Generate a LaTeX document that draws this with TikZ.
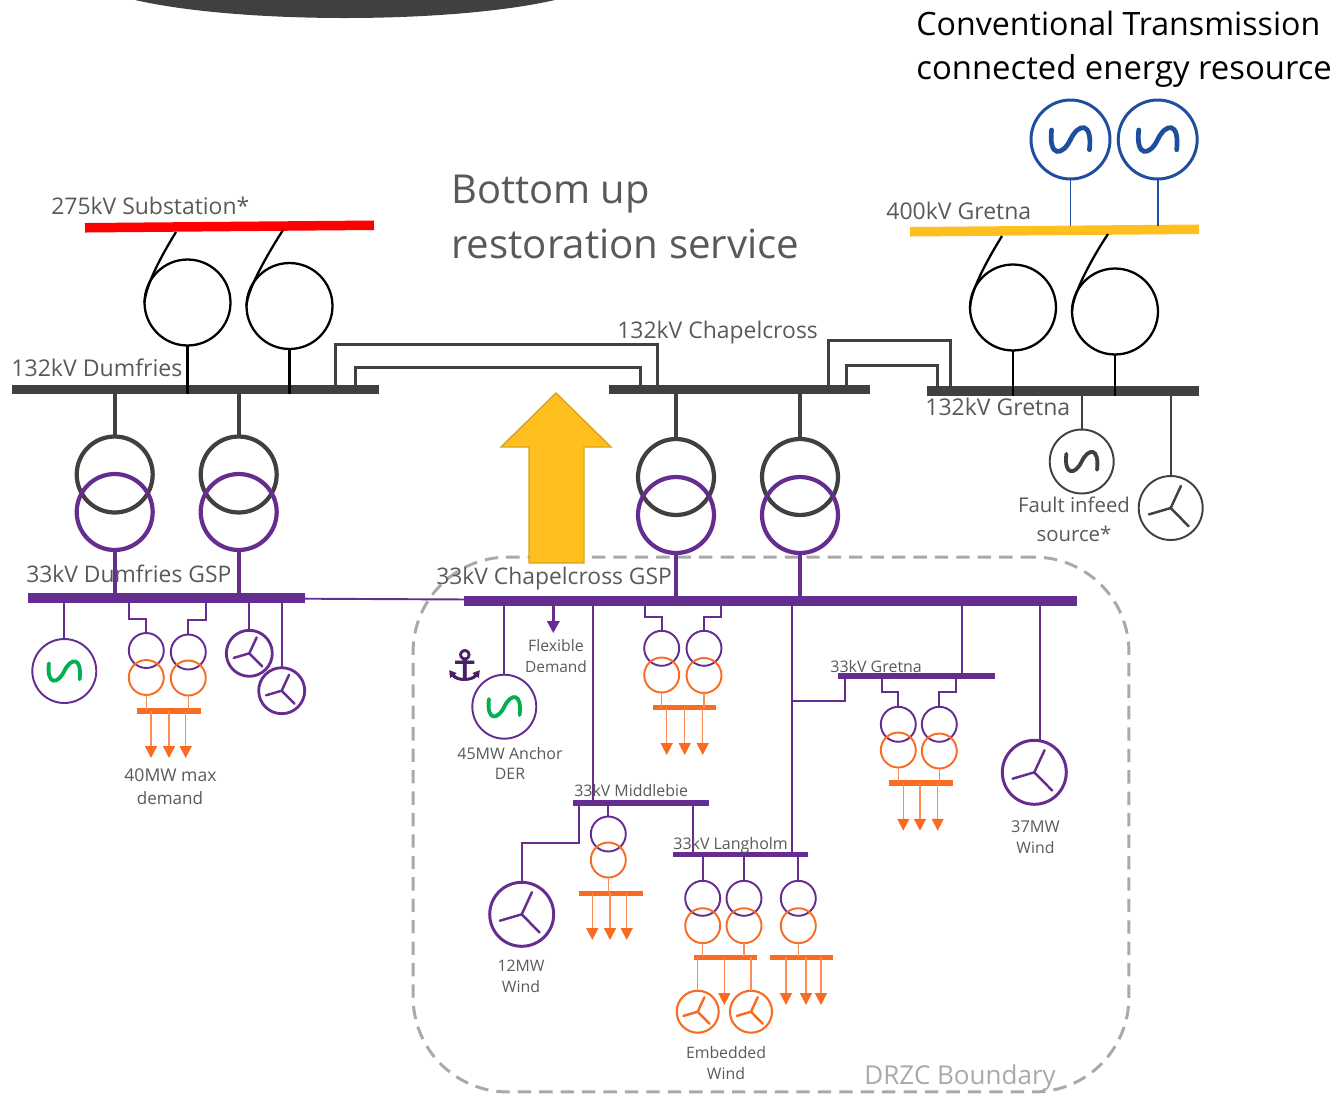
\documentclass[tikz,border=0pt]{standalone}
\usepackage{fontspec}
\setmainfont{Open Sans}
\newfontfamily\symfont[FakeBold=1.5]{DejaVu Sans}
\usetikzlibrary{arrows.meta}
\definecolor{purp}{HTML}{662D91}
\definecolor{dkgrey}{HTML}{404040}
\definecolor{txtgrey}{HTML}{595959}
\definecolor{orng}{HTML}{F96B21}
\definecolor{orngl}{HTML}{FB8C55}
\definecolor{yell}{HTML}{FFC01F}
\definecolor{blu}{HTML}{1F4E9F}
\definecolor{grn}{HTML}{00B050}
\definecolor{bndry}{HTML}{A9A9A9}
\tikzset{
    busH/.style 2 args={rectangle,fill=#1,inner sep=0,outer sep=0,minimum width=#2*0.02cm,minimum height=0.19cm},
    busL/.style 2 args={rectangle,fill=#1,inner sep=0,outer sep=0,minimum width=#2*0.02cm,minimum height=0.11cm},
    ring/.style 2 args={circle,draw=#1,inner sep=0,outer sep=0,minimum size=#2*0.04cm},
    gen/.style n args={3}{ring={#1}{#2},path picture={
        \draw[#3,line width=0.0024cm*#2,line cap=round,shift={(path picture bounding box.center)}]
            (-0.48*#2,-0.24*#2) .. controls (-0.56*#2,0.46*#2) and (-0.2*#2,0.42*#2) .. (0,0)
            .. controls (0.2*#2,-0.42*#2) and (0.56*#2,-0.46*#2) .. (0.48*#2,0.26*#2);}},
    wind/.style 2 args={ring={#1}{#2},path picture={
        \draw[#1,line width=1.4pt,line cap=round,shift={(path picture bounding box.center)}]
            (0,0) -- (0.32*#2,-0.69*#2) (0,0) -- (-0.68*#2,0.2*#2) (0,0) -- (0.56*#2,0.57*#2);}},
    lab/.style={text=txtgrey,inner sep=0,font=\fontsize{#1}{#1}\selectfont},
    lineG/.style={dkgrey,line width=1.7pt},
    lineK/.style={black,line width=1.3pt},
    lineP/.style={purp,line width=1.1pt},
    lineT/.style={purp,line width=2.4pt},
    lineO/.style={orngl,line width=0.8pt},
    load/.style={orngl,line width=0.8pt,-{Triangle[length=6.8pt,width=6.8pt,color=orng]}},
}
\begin{document}
\begin{tikzpicture}[x=0.02cm,y=-0.02cm]
        \useasboundingbox (0,0) rectangle (1332,1093);
        \fill[dkgrey] (135,0) .. controls (240,24) and (450,24) .. (555,0) -- cycle;

        % boundary
        \node [draw=bndry,line width=1.7pt,dash pattern=on 7.6pt off 4.6pt,rounded corners=1.9cm,inner sep=0,minimum width=14.32cm,minimum height=10.7cm](drzc) at (771,824.5) {};

        % big arrow
        \draw [fill=yell,draw=yell!85!black,line width=0.8pt] (556,393) -- (611,447) -- (584,447) -- (584,563) -- (529,563) -- (529,447) -- (501,447) -- cycle;

        % busbars
        \node [busH={red}{289},rotate=0.5](bus275) at (229.5,226.5) {};
        \node [busH={yell}{289},rotate=0.5](bus400) at (1054.5,230.5) {};
        \node [busH={dkgrey}{367}](busDum) at (195.5,389.5) {};
        \node [busH={dkgrey}{261}](busCha) at (739.5,389.5) {};
        \node [busH={dkgrey}{272}](busGre) at (1063,391) {};
        \node [busH={purp}{277}](busDumL) at (166.5,598) {};
        \node [busH={purp}{613}](busChaL) at (770.5,601) {};
        \node [busL={purp}{136}](busMid) at (641,803) {};
        \node [busL={purp}{135}](busLan) at (740,854.5) {};
        \node [busL={purp}{157}](busGreL) at (916,676) {};

        % grid transformers
        \begin{scope}[every node/.style={line width=1.3pt}]
            \node [ring={black}{43}](tfA) at (187.5,302.5) {};
            \node [ring={black}{43}](tfB) at (289.5,306) {};
            \node [ring={black}{43}](tfC) at (1013,307.5) {};
            \node [ring={black}{43}](tfD) at (1115,311.5) {};
        \end{scope}
        \coordinate (hookA) at (176,232);\coordinate (hookB) at (283,230);
        \coordinate (hookC) at (1002,236);\coordinate (hookD) at (1108,234);
        \draw [lineK](hookA) .. controls (160,258) and (146,285) .. (tfA.west);
        \draw [lineK](hookB) .. controls (267,255) and (247,290) .. (tfB.west);
        \draw [lineK](hookC) .. controls (986,262) and (971,290) .. (tfC.west);
        \draw [lineK](hookD) .. controls (1092,258) and (1072,295) .. (tfD.west);
        \draw [lineK](tfA) -- (tfA |- busDum.south);\draw [lineK](tfB) -- (tfB |- busDum.south);
        \draw [lineK](tfC) -- (tfC |- busGre.south);\draw [lineK](tfD) -- (tfD |- busGre.south);

        % links between 132kV bars
        \coordinate (lnkA) at (335.7,344.5);\coordinate (lnkB) at (657.3,344.5);
        \coordinate (lnkC) at (355.7,367.5);\coordinate (lnkD) at (640,367.5);
        \coordinate (lnkE) at (828,340.5);\coordinate (lnkF) at (950,340.5);
        \coordinate (lnkG) at (846,365.5);\coordinate (lnkH) at (937,365.5);
        \draw [lineG](lnkA |- busDum) -- (lnkA) -- (lnkB) -- (lnkB |- busCha);
        \draw [lineG](lnkC |- busDum) -- (lnkC) -- (lnkD) -- (lnkD |- busCha);
        \draw [lineG](lnkE |- busCha) -- (lnkE) -- (lnkF) -- (lnkF |- busGre);
        \draw [lineG](lnkG |- busCha) -- (lnkG) -- (lnkH) -- (lnkH |- busGre);

        % supergrid transformers
        \begin{scope}[every node/.style={line width=2.4pt}]
            \node [ring={dkgrey}{38}](sgA) at (114.7,474.5) {};
            \node [ring={purp}{38}](sgAp) at (114.7,512) {};
            \node [ring={dkgrey}{38}](sgB) at (238.7,474.5) {};
            \node [ring={purp}{38}](sgBp) at (238.7,512) {};
            \node [ring={dkgrey}{38}](sgC) at (676,477) {};
            \node [ring={purp}{38}](sgCp) at (676,515) {};
            \node [ring={dkgrey}{38}](sgD) at (800,477) {};
            \node [ring={purp}{38}](sgDp) at (800,515) {};
        \end{scope}
        \draw [dkgrey,line width=2.4pt](busDum -| sgA) -- (sgA);\draw [dkgrey,line width=2.4pt](busDum -| sgB) -- (sgB);
        \draw [dkgrey,line width=2.4pt](busCha -| sgC) -- (sgC);\draw [dkgrey,line width=2.4pt](busCha -| sgD) -- (sgD);
        \draw [lineT](sgAp) -- (sgAp |- busDumL);\draw [lineT](sgBp) -- (sgBp |- busDumL);
        \draw [lineT](sgCp) -- (sgCp |- busChaL);\draw [lineT](sgDp) -- (sgDp |- busChaL);

        % generators
        \node [gen={blu}{39.5}{blu},line width=1.7pt](genA) at (1070.5,139.5) {};
        \node [gen={blu}{39.5}{blu},line width=1.7pt](genB) at (1157.7,139.5) {};
        \draw [blu,line width=1.1pt](genA) -- (genA |- bus400.north);\draw [blu,line width=1.1pt](genB) -- (genB |- bus400.north);
        \node [gen={dkgrey}{32}{dkgrey},line width=1.1pt](genF) at (1081.7,461.5) {};
        \node [wind={dkgrey}{32},line width=1.1pt](windF) at (1170.7,508) {};
        \draw [dkgrey,line width=1.1pt](busGre -| genF) -- (genF);\draw [dkgrey,line width=1.1pt](busGre -| windF) -- (windF);
        \node [gen={purp}{32}{grn},line width=1.1pt](genD) at (64.3,671) {};
        \draw [lineP](busDumL -| genD) -- (genD);
        \node [gen={purp}{32}{grn},line width=1.1pt](genE) at (504.3,706.7) {};
        \draw [lineP](busChaL -| genE) -- (genE);
        \node [wind={purp}{23},line width=1.6pt](windA) at (249.3,653.3) {};
        \node [wind={purp}{23},line width=1.6pt](windB) at (281.7,690.7) {};
        \draw [lineP](busDumL -| windA) -- (windA);\draw [lineP](busDumL -| windB) -- (windB);
        \node [wind={purp}{32},line width=1.7pt](windC) at (1034.3,772.3) {};
        \coordinate (tapW) at (1040,700);
        \draw [lineP](tapW |- busChaL) -- (tapW |- windC.north);
        \node [wind={purp}{32},line width=1.7pt](windD) at (521.7,914.3) {};
        \node [wind={orng}{21},line width=1.2pt](windE) at (697.7,1011.7) {};
        \node [wind={orng}{21},line width=1.2pt](windG) at (751,1011.7) {};

        % 33kV feeders
        \draw [lineP](busDumL) -- (busChaL);
        \coordinate (tapN) at (592.7,700);
        \draw [lineP](tapN |- busChaL) -- (tapN |- busMid);
        \coordinate (tapL) at (791.7,701);\coordinate (tapR) at (962.3,640);\coordinate (tapM) at (693.3,830);\coordinate (tapK) at (845,701);\coordinate (tapJ) at (579,842.7);
        \draw [lineP](tapL |- busChaL) -- (tapL) -- (tapL |- busLan);
        \draw [lineP](tapL) -- (tapK) -- (tapK |- busGreL);
        \draw [lineP](tapR |- busChaL) -- (tapR |- busGreL);
        \draw [lineP](tapM |- busMid) -- (tapM |- busLan);
        \draw [lineP](tapJ |- busMid) -- (tapJ) -| (windD);

        % distribution transformers
        \begin{scope}[every node/.style={line width=1.1pt}]
            \node [ring={purp}{17.5}](dtA) at (146.3,650.5) {};
            \node [ring={orng}{17.5}](dtAo) at (146.3,677.5) {};
            \node [ring={purp}{17.5}](dtB) at (188.3,652) {};
            \node [ring={orng}{17.5}](dtBo) at (188.3,678) {};
            \node [ring={purp}{17.5}](dtC) at (661.7,648.3) {};
            \node [ring={orng}{17.5}](dtCo) at (661.7,675) {};
            \node [ring={purp}{17.5}](dtD) at (704,648.3) {};
            \node [ring={orng}{17.5}](dtDo) at (704,675.5) {};
            \node [ring={purp}{17.5}](dtE) at (898.3,724.3) {};
            \node [ring={orng}{17.5}](dtEo) at (898.3,750) {};
            \node [ring={purp}{17.5}](dtF) at (939.3,724.3) {};
            \node [ring={orng}{17.5}](dtFo) at (939.3,751) {};
            \node [ring={purp}{17.5}](dtG) at (608.3,834) {};
            \node [ring={orng}{17.5}](dtGo) at (608.3,860) {};
            \node [ring={purp}{17.5}](dtH) at (702.7,898.3) {};
            \node [ring={orng}{17.5}](dtHo) at (702.7,925.7) {};
            \node [ring={purp}{17.5}](dtI) at (744,898.3) {};
            \node [ring={orng}{17.5}](dtIo) at (744,925.7) {};
            \node [ring={purp}{17.5}](dtK) at (798.3,898.3) {};
            \node [ring={orng}{17.5}](dtKo) at (798.3,925.7) {};
        \end{scope}
        \coordinate (elA) at (129,619);\coordinate (elB) at (205.7,620);
        \coordinate (elC) at (645,617);\coordinate (elD) at (721,617);
        \coordinate (elE) at (881.7,692);\coordinate (elF) at (956,692);
        \draw [lineP](elA |- busDumL) -- (elA) -| (dtA);\draw [lineP](elB |- busDumL) -- (elB) -| (dtB);
        \draw [lineP](elC |- busChaL) -- (elC) -| (dtC);\draw [lineP](elD |- busChaL) -- (elD) -| (dtD);
        \draw [lineP](elE |- busGreL) -- (elE) -| (dtE);\draw [lineP](elF |- busGreL) -- (elF) -| (dtF);
        \draw [lineP](busMid -| dtG) -- (dtG);
        \draw [lineP](busLan -| dtH) -- (dtH);\draw [lineP](busLan -| dtI) -- (dtI);\draw [lineP](busLan -| dtK) -- (dtK);

        % load bars
        \node [busL={orng}{63.5}](ldA) at (169,711) {};
        \node [busL={orng}{63}](ldB) at (684.7,707.5) {};
        \node [busL={orng}{63.5}](ldC) at (921,783) {};
        \node [busL={orng}{64}](ldD) at (611.3,893.3) {};
        \node [busL={orng}{63.3}](ldE) at (725.7,957.3) {};
        \node [busL={orng}{62.7}](ldF) at (801.3,957.3) {};
        \draw [lineO](dtAo) -- (dtAo |- ldA);\draw [lineO](dtBo) -- (dtBo |- ldA);
        \draw [lineO](dtCo) -- (dtCo |- ldB);\draw [lineO](dtDo) -- (dtDo |- ldB);
        \draw [lineO](dtEo) -- (dtEo |- ldC);\draw [lineO](dtFo) -- (dtFo |- ldC);
        \draw [lineO](dtGo) -- (dtGo |- ldD);
        \draw [lineO](dtHo) -- (dtHo |- ldE);\draw [lineO](dtIo) -- (dtIo |- ldE);\draw [lineO](dtKo) -- (dtKo |- ldF);
        \draw [lineO](ldE -| windE) -- (windE);\draw [lineO](ldE -| windG) -- (windG);
        \foreach \x in {151,169,185.7} {\coordinate (tip) at (\x,758);\draw [load](tip |- ldA) -- (tip);}
        \foreach \x in {666.7,684.7,702.7} {\coordinate (tip) at (\x,755);\draw [load](tip |- ldB) -- (tip);}
        \foreach \x in {903.3,920,937.7} {\coordinate (tip) at (\x,830.7);\draw [load](tip |- ldC) -- (tip);}
        \foreach \x in {592.3,610,626.7} {\coordinate (tip) at (\x,940);\draw [load](tip |- ldD) -- (tip);}
        \foreach \x in {786,806,821} {\coordinate (tip) at (\x,1005);\draw [load](tip |- ldF) -- (tip);}
        \coordinate (tipE) at (724.3,1005);\draw [load](tipE |- ldE) -- (tipE);
        \coordinate (tipFx) at (553.3,633);
        \draw [purp,line width=1.4pt,-{Triangle[length=6.8pt,width=7pt]}](tipFx |- busChaL) -- (tipFx);

        \node [text=purp!70!black,font=\symfont\fontsize{24}{24}\selectfont,inner sep=0](anchor) at (464.5,665) {⚓};

        % labels
        \node [lab=18.3,text=black,anchor=west](lblConvA) at (916,23) {Conventional Transmission};
        \node [lab=18.7,text=black,anchor=west](lblConvB) at (916,71) {connected energy resource};
        \node [lab=22.7,anchor=west](lblBotA) at (451,194) {Bottom up};
        \node [lab=22.9,anchor=west](lblBotB) at (451,244) {restoration service};
        \node [lab=13.05,anchor=west](lbl275) at (51,206) {275kV Substation*};
        \node [lab=13.1,anchor=west](lbl400) at (886,211) {400kV Gretna};
        \node [lab=13.15,anchor=west](lblDum) at (11,368) {132kV Dumfries};
        \node [lab=13.05,anchor=west](lblCha) at (617,333) {132kV Chapelcross};
        \node [lab=13.1,anchor=west](lblGre) at (925,407) {132kV Gretna};
        \node [lab=13,anchor=west](lblDumL) at (26,574) {33kV Dumfries GSP};
        \node [lab=13,anchor=west](lblChaL) at (436,579) {33kV Chapelcross GSP};
        \node [lab=11.6](lblFaA) at (1074,505) {Fault infeed};
        \node [lab=11.6](lblFaB) at (1074,534) {source*};
        \node [lab=10](lblDemA) at (170.5,775) {40MW max};
        \node [lab=9.7](lblDemB) at (170,798) {demand};
        \node [lab=9](lblFlxA) at (556,646) {Flexible};
        \node [lab=8.8](lblFlxB) at (556,667) {Demand};
        \node [lab=9.1](lblAncA) at (510,753) {45MW Anchor};
        \node [lab=9](lblAncB) at (510,774) {DER};
        \node [lab=9.05,anchor=west](lblMid) at (574,791) {33kV Middlebie};
        \node [lab=9.1,anchor=west](lblLan) at (673,845) {33kV Langholm};
        \node [lab=9.1,anchor=west](lblGreL) at (830,666) {33kV Gretna};
        \node [lab=9.3](lbl37A) at (1035.5,827) {37MW};
        \node [lab=9](lbl37B) at (1035.5,848) {Wind};
        \node [lab=9](lbl12A) at (521,966) {12MW};
        \node [lab=9](lbl12B) at (521,987) {Wind};
        \node [lab=9](lblEmbA) at (726,1053) {Embedded};
        \node [lab=9](lblEmbB) at (726,1074) {Wind};
        \node [lab=14.8,text=bndry,anchor=west](lblDrzc) at (864,1078) {DRZC Boundary};
\end{tikzpicture}
\end{document}
